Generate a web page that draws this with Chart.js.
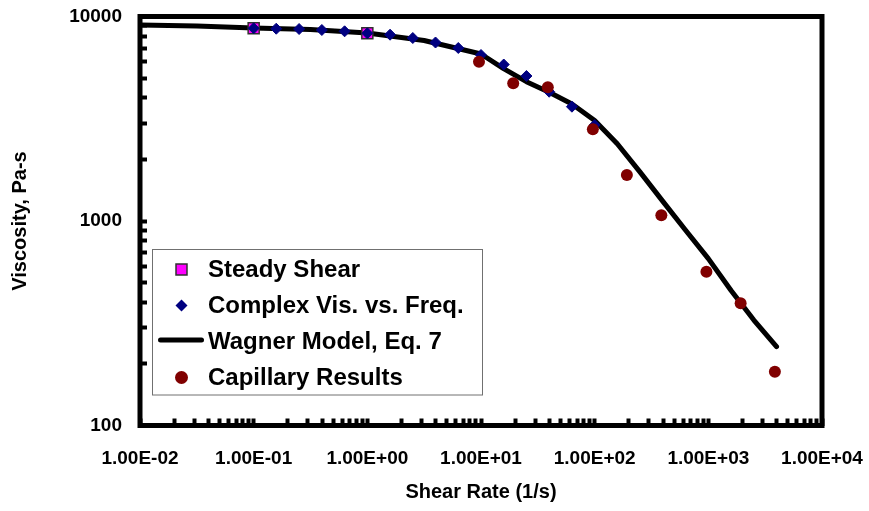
<!DOCTYPE html>
<html>
<head>
<meta charset="utf-8">
<script src="https://cdn.jsdelivr.net/npm/chart.js@4.4.0/dist/chart.umd.min.js"></script>
<style>
  html, body { margin: 0; padding: 0; background: #fff; }
  #wrap { width: 869px; height: 511px; }
</style>
</head>
<body>
<div id="wrap"><canvas id="chart" width="869" height="511"></canvas></div>
<script>
// values
const steadyRate = [0.1, 1];
const steadyVisc = [8756, 8275];

const complexFreq = [0.1, 0.158, 0.251, 0.398, 0.631, 1, 1.585, 2.512, 3.98, 6.31, 10, 15.85, 25.1, 39.8, 63.1, 100];
const complexVisc = [8756, 8716, 8686, 8590, 8465, 8275, 8147, 7849, 7461, 7015, 6483, 5823, 5117, 4287, 3622, 2946];

const wagnerRate = [0.01, 0.0316, 0.1, 0.316, 1, 3.16, 10, 15.8, 25.1, 39.8, 63.1, 100, 158, 251, 398, 631, 1000, 1585, 2512, 3981];
const wagnerVisc = [9087, 8986, 8786, 8640, 8305, 7633, 6556, 5561, 4799, 4259, 3733, 3100, 2388, 1734, 1247, 901, 655, 457, 328, 243];

const capRate = [9.6, 19.2, 38.7, 96.4, 192, 386, 962, 1924, 3850];
const capVisc = [6011, 4714, 4505, 2808, 1679, 1066, 565, 396, 183];

const xDecades = [0.01, 0.1, 1, 10, 100, 1000, 10000];
const xTickLabels = ['1.00E-02', '1.00E-01', '1.00E+00', '1.00E+01', '1.00E+02', '1.00E+03', '1.00E+04'];
const yDecades = [100, 1000, 10000];
const yTickLabels = ['100', '1000', '10000'];

const seriesNames = ['Steady Shear', 'Complex Vis. vs. Freq.', 'Wagner Model, Eq. 7', 'Capillary Results'];

const FONT = 'Liberation Sans, Arial, sans-serif';
Chart.defaults.font.family = FONT;
Chart.defaults.color = '#000';

function pairs(xs, ys) {
    return xs.map((x, i) => ({ x: x, y: ys[i] }));
}

// 1..9 per decade, for the little inside tick marks
function logTicks(decades) {
    const out = [];
    for (let i = 0; i < decades.length - 1; i++) {
        for (let k = 1; k < 10; k++) out.push({ value: decades[i] * k });
    }
    out.push({ value: decades[decades.length - 1] });
    return out;
}

function labelFor(decades, labels) {
    return (v) => {
        const idx = decades.findIndex(d => Math.abs(d - v) / d < 1e-6);
        return idx >= 0 ? labels[idx] : '';
    };
}

const frameAndLegend = {
    id: 'frameAndLegend',
    afterDatasetsDraw(chart) {
        const ctx = chart.ctx;
        const a = chart.chartArea;
        ctx.save();
        ctx.strokeStyle = '#000';
        ctx.lineWidth = 5;
        ctx.strokeRect(a.left, a.top, a.right - a.left, a.bottom - a.top);

        // legend box
        const bx = 152.5, by = 249.5, bw = 330, bh = 145.5;
        ctx.fillStyle = '#fff';
        ctx.fillRect(bx, by, bw, bh);
        ctx.strokeStyle = '#707070';
        ctx.lineWidth = 1;
        ctx.strokeRect(bx, by, bw, bh);

        const ds = chart.data.datasets;
        const symX = 181.5;
        ctx.font = 'bold 24px ' + FONT;
        ctx.textBaseline = 'alphabetic';
        ctx.textAlign = 'left';
        for (let i = 0; i < ds.length; i++) {
            const base = 277 + i * 36;
            const cy = base - 7.5;
            const d = ds[i];
            ctx.beginPath();
            if (i === 0) {
                ctx.rect(symX - 5.5, cy - 5.5, 11, 11);
                ctx.fillStyle = d.backgroundColor;
                ctx.fill();
                ctx.lineWidth = 1.5;
                ctx.strokeStyle = d.borderColor;
                ctx.stroke();
            } else if (i === 1) {
                ctx.moveTo(symX - 6, cy);
                ctx.lineTo(symX, cy - 6);
                ctx.lineTo(symX + 6, cy);
                ctx.lineTo(symX, cy + 6);
                ctx.closePath();
                ctx.fillStyle = d.backgroundColor;
                ctx.fill();
            } else if (i === 2) {
                ctx.moveTo(160.5, cy - 1.5);
                ctx.lineTo(201.5, cy - 1.5);
                ctx.lineWidth = d.borderWidth;
                ctx.lineCap = 'round';
                ctx.strokeStyle = d.borderColor;
                ctx.stroke();
            } else {
                ctx.arc(symX, cy, 6.5, 0, Math.PI * 2);
                ctx.fillStyle = d.backgroundColor;
                ctx.fill();
            }
            ctx.fillStyle = '#000';
            ctx.fillText(d.label, 208, base);
        }
        ctx.restore();
    }
};

new Chart(document.getElementById('chart'), {
    type: 'scatter',
    data: {
        datasets: [
            {
                label: seriesNames[0],
                data: pairs(steadyRate, steadyVisc),
                pointStyle: 'rect',
                pointRadius: 7.8,
                backgroundColor: '#ff00ff',
                borderColor: '#303030',
                borderWidth: 1.5,
                order: 2
            },
            {
                label: seriesNames[1],
                data: pairs(complexFreq, complexVisc),
                pointStyle: 'rectRot',
                pointRadius: 5.5,
                backgroundColor: '#000080',
                borderColor: '#000080',
                borderWidth: 1,
                order: 1
            },
            {
                label: seriesNames[2],
                data: pairs(wagnerRate, wagnerVisc),
                showLine: true,
                pointRadius: 0,
                borderColor: '#000',
                backgroundColor: '#000',
                borderWidth: 5,
                borderCapStyle: 'round',
                borderJoinStyle: 'round',
                tension: 0,
                order: 3
            },
            {
                label: seriesNames[3],
                data: pairs(capRate, capVisc),
                pointStyle: 'circle',
                pointRadius: 6,
                backgroundColor: '#800000',
                borderWidth: 0,
                order: 0
            }
        ]
    },
    options: {
        responsive: false,
        animation: false,
        events: [],
        layout: { padding: { top: 16.5, right: 47, bottom: 0, left: 0 } },
        plugins: {
            legend: { display: false },
            tooltip: { enabled: false }
        },
        scales: {
            x: {
                type: 'logarithmic',
                min: 0.01,
                max: 10000,
                afterBuildTicks: (scale) => { scale.ticks = logTicks(xDecades); },
                afterFit: (scale) => {
                    scale.height = 85.5;
                    scale.paddingLeft = 0;
                    scale.paddingRight = 0;
                },
                border: { display: false },
                grid: {
                    drawOnChartArea: false,
                    drawTicks: true,
                    tickLength: -7,
                    tickWidth: 4,
                    tickColor: '#000'
                },
                ticks: {
                    autoSkip: false,
                    maxRotation: 0,
                    padding: 29,
                    font: { size: 19, weight: 'bold' },
                    callback: labelFor(xDecades, xTickLabels)
                },
                title: {
                    display: true,
                    text: 'Shear Rate (1/s)',
                    font: { size: 20, weight: 'bold' },
                    padding: { top: 0, bottom: 7 }
                }
            },
            y: {
                type: 'logarithmic',
                min: 100,
                max: 10000,
                afterBuildTicks: (scale) => { scale.ticks = logTicks(yDecades); },
                afterFit: (scale) => {
                    scale.width = 140;
                    scale.paddingTop = 0;
                    scale.paddingBottom = 0;
                },
                border: { display: false },
                grid: {
                    drawOnChartArea: false,
                    drawTicks: true,
                    tickLength: -7,
                    tickWidth: 4,
                    tickColor: '#000'
                },
                ticks: {
                    autoSkip: false,
                    padding: 25,
                    font: { size: 19, weight: 'bold' },
                    callback: labelFor(yDecades, yTickLabels)
                },
                title: {
                    display: true,
                    text: 'Viscosity, Pa-s',
                    font: { size: 20, weight: 'bold' },
                    padding: { top: 8, bottom: 0 }
                }
            }
        }
    },
    plugins: [frameAndLegend]
});
</script>
</body>
</html>
